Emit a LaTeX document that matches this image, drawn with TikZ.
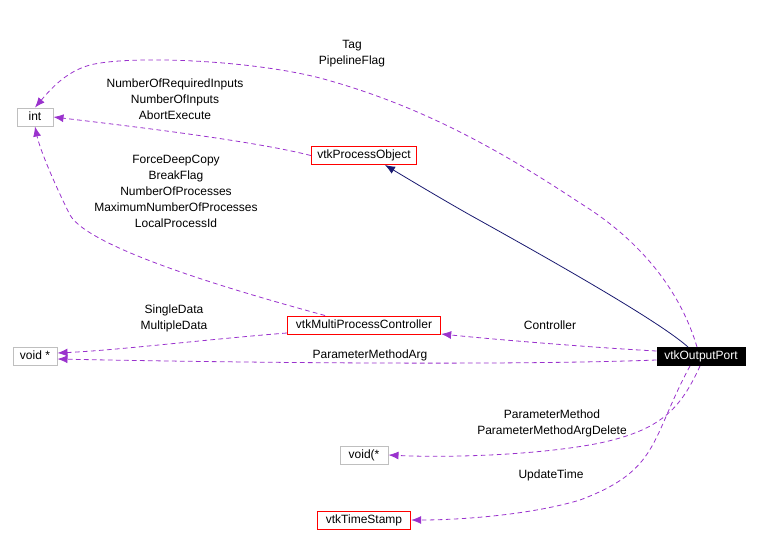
\documentclass[tikz,border=0pt]{standalone}
\usepackage{fontspec}
\setmainfont{Liberation Sans}
\usepackage{tikz}
\usetikzlibrary{arrows.meta,positioning}
\definecolor{edgepurple}{RGB}{154,50,205}
\definecolor{edgenavy}{RGB}{25,25,112}
\definecolor{boxgray}{RGB}{191,191,191}
\tikzset{
  classbox/.style={
    rectangle,
    draw=red,
    line width=0.75pt,
    align=center,
    minimum height=13.5pt,
    text height=6.6pt,
    text depth=1.8pt,
    inner sep=1.5pt,
    font=\fontsize{9}{10}\selectfont
  },
  typebox/.style={
    classbox,
    draw=boxgray
  },
  portbox/.style={
    classbox,
    draw=black,
    fill=black,
    text=white
  },
  memberlabel/.style={
    align=center,
    inner sep=0pt,
    font=\fontsize{9}{12}\selectfont
  },
  usearrow/.style={
    -{Latex[length=7.5pt,width=6pt]},
    draw=edgepurple,
    line width=0.6pt,
    dash pattern=on 3.5pt off 2.5pt
  },
  inheritarrow/.style={
    -{Latex[length=7.5pt,width=6pt]},
    draw=edgenavy,
    line width=0.6pt
  }
}

\begin{document}
\begin{tikzpicture}[x=0.75pt,y=-0.75pt]
\useasboundingbox (0,0) rectangle (760,546);

\node[typebox, minimum width=27pt] (int) at (35,117) {int};
\node[classbox, minimum width=79pt] (procobj) at (364,155.5) {vtkProcessObject};
\node[classbox, minimum width=115pt] (mpc) at (364,325) {vtkMultiProcessController};
\node[typebox, minimum width=33pt] (voidptr) at (35,356) {void *};
\node[portbox, minimum width=66pt] (port) at (701,356.5) {vtkOutputPort};
\node[typebox, minimum width=36pt] (voidfn) at (364,455) {void(*};
\node[classbox, minimum width=70pt] (stamp) at (364,520) {vtkTimeStamp};

\node[memberlabel] (tag) at (352,54) {Tag\\PipelineFlag};
\node[memberlabel] (procmembers) at (175,99) {NumberOfRequiredInputs\\NumberOfInputs\\AbortExecute};
\node[memberlabel] (mpcmembers) at (176,191) {ForceDeepCopy\\BreakFlag\\NumberOfProcesses\\MaximumNumberOfProcesses\\LocalProcessId};
\node[memberlabel] (datamembers) at (174,318) {SingleData\\MultipleData};
\node[memberlabel] (ctrl) at (550,325) {Controller};
\node[memberlabel] (argmember) at (370,355) {ParameterMethodArg};
\node[memberlabel] (methmembers) at (552,423) {ParameterMethod\\ParameterMethodArgDelete};
\node[memberlabel] (timemember) at (551,475) {UpdateTime};

\coordinate (porttop) at (688,347);
\coordinate (porttopb) at (697,347);
\coordinate (portbot) at (700,366);
\coordinate (portbotb) at (690,366);

\draw[inheritarrow] (porttop) .. controls (660,322) and (560,265) .. (470,215)
  .. controls (440,198) and (410,180) .. (385,165);
\draw[usearrow] (porttopb) .. controls (680,290) and (640,240) .. (580,203)
  .. controls (500,150) and (420,105) .. (320,78) .. controls (250,60) and (130,55) .. (90,65)
  .. controls (65,72) and (50,90) .. (int.north);
\draw[usearrow] (procobj.west) .. controls (250,140) and (120,125) .. (int.east);
\draw[usearrow] (mpc.north west -| 325,316) .. controls (250,295) and (90,250) .. (70,215)
  .. controls (55,185) and (40,150) .. (int.south);
\draw[usearrow] (mpc.west |- 287,333) .. controls (200,340) and (120,350) .. (voidptr.east |- 57,353);
\draw[usearrow] (port.west |- 657,351) .. controls (600,348) and (500,340) .. (mpc.south east |- 441,334);
\draw[usearrow] (port.west |- 657,360) .. controls (500,366) and (200,362) .. (voidptr.east |- 57,359);
\draw[usearrow] (portbot) .. controls (680,410) and (660,430) .. (600,443)
  .. controls (540,455) and (450,458) .. (voidfn.east);
\draw[usearrow] (portbotb) .. controls (650,440) and (660,470) .. (580,500)
  .. controls (530,515) and (460,520) .. (stamp.east);
\end{tikzpicture}
\end{document}
